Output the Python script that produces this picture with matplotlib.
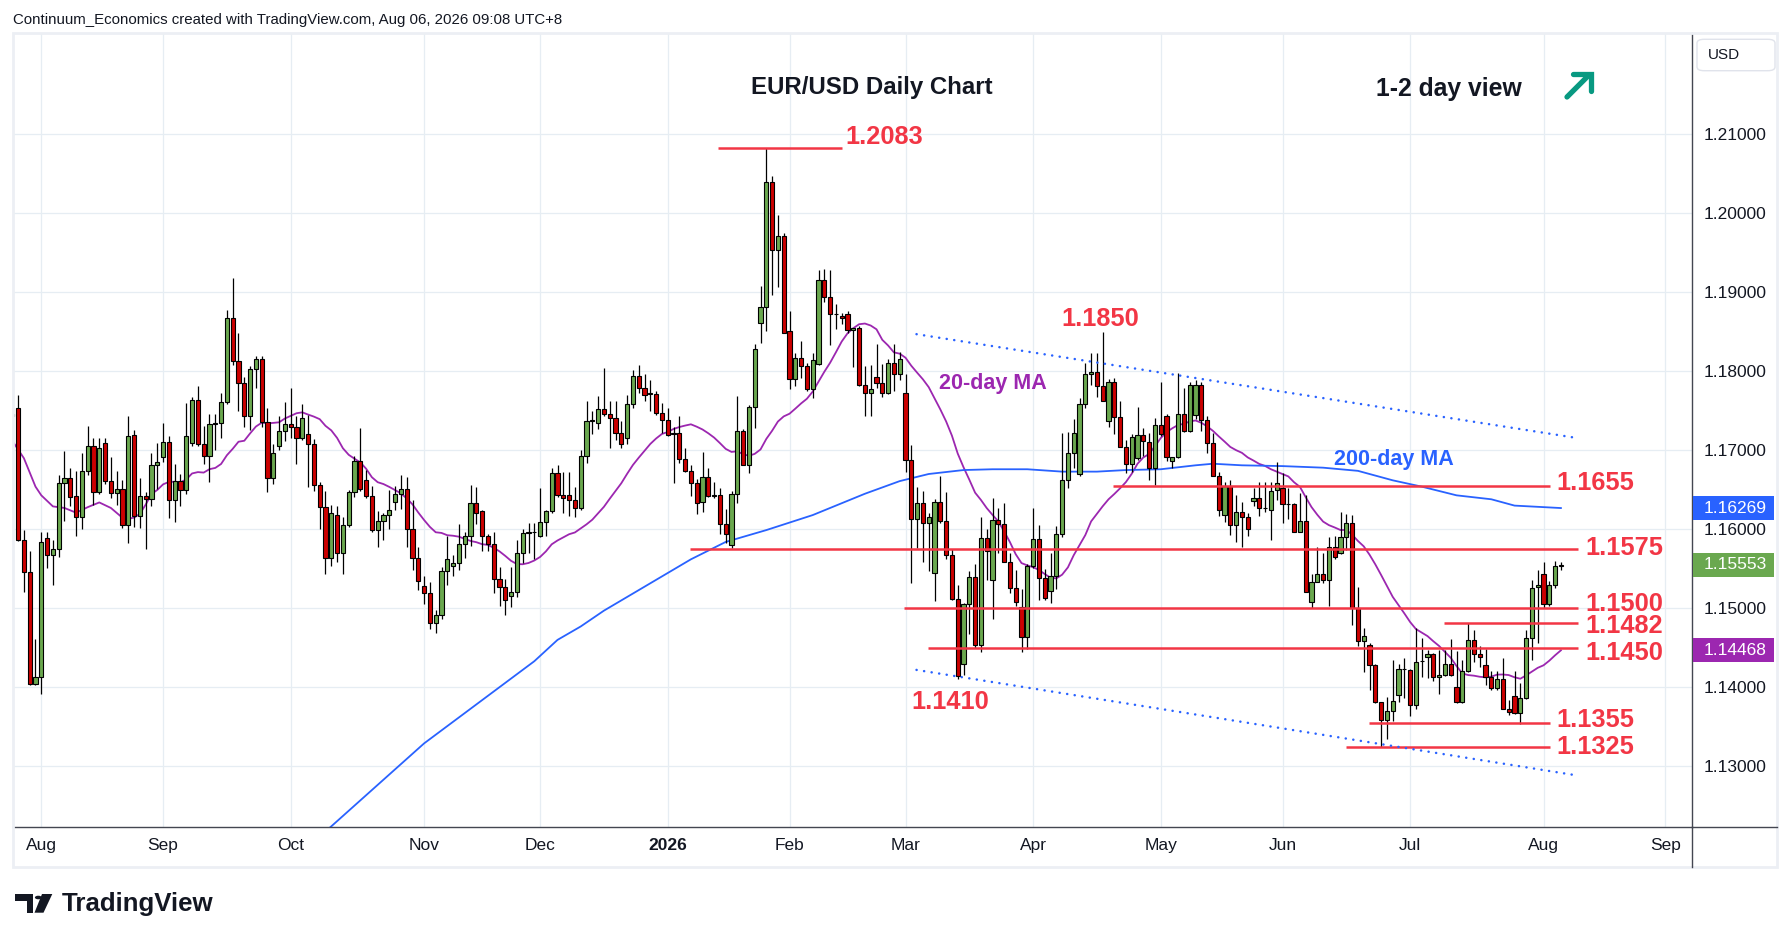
import numpy as np
import pandas as pd
import matplotlib
matplotlib.use('Agg')
import matplotlib.pyplot as plt
from matplotlib.lines import Line2D
from matplotlib.patches import Rectangle, Polygon, Circle, FancyBboxPatch

plt.rcParams['font.family'] = ['Liberation Sans', 'DejaVu Sans']

# EUR/USD daily OHLC, Jul 25 2025 .. Aug 06 2026 (weekdays, no Dec 25 / Jan 1)
opens = [
    1.1746, 1.1754, 1.1587, 1.1546, 1.1404,
    # Aug
    1.1413, 1.1589, 1.1568, 1.1575, 1.1658, 1.1665, 1.1642, 1.1615, 1.1674, 1.1705, 1.1647,
    1.1709, 1.1661, 1.1646, 1.1651, 1.1605, 1.1719, 1.1617, 1.1642, 1.1638, 1.1682,
    # Sep
    1.1692, 1.1710, 1.1637, 1.1661, 1.1650, 1.1709, 1.1764, 1.1708, 1.1693, 1.1733, 1.1734,
    1.1761, 1.1867, 1.1813, 1.1785, 1.1743, 1.1803, 1.1815, 1.1736, 1.1665, 1.1705, 1.1725,
    # Oct
    1.1733, 1.1729, 1.1715, 1.1720, 1.1708, 1.1656, 1.1628, 1.1564, 1.1618, 1.1570, 1.1606,
    1.1647, 1.1686, 1.1663, 1.1642, 1.1599, 1.1610, 1.1618, 1.1634, 1.1645, 1.1651, 1.1600, 1.1564,
    # Nov
    1.1528, 1.1519, 1.1482, 1.1492, 1.1547, 1.1553, 1.1557, 1.1582, 1.1592, 1.1633,
    1.1623, 1.1591, 1.1581, 1.1537, 1.1527, 1.1516, 1.1520, 1.1570, 1.1595, 1.1596,
    # Dec
    1.1591, 1.1609, 1.1623, 1.1671, 1.1644, 1.1644, 1.1637, 1.1627, 1.1693, 1.1737, 1.1734,
    1.1752, 1.1746, 1.1741, 1.1722, 1.1716, 1.1758, 1.1794, 1.1779, 1.1771, 1.1771, 1.1747,
    # Jan
    1.1738, 1.1721, 1.1722, 1.1689, 1.1674, 1.1659, 1.1634, 1.1666, 1.1642, 1.1643, 1.1607,
    1.1580, 1.1645, 1.1725, 1.1682, 1.1755, 1.1861, 1.1881, 1.2039, 1.1954, 1.1971,
    # Feb
    1.1851, 1.1790, 1.1817, 1.1807, 1.1777, 1.1809, 1.1915, 1.1894, 1.1872, 1.1870,
    1.1873, 1.1852, 1.1855, 1.1783, 1.1772, 1.1793, 1.1785, 1.1772, 1.1811, 1.1797,
    # Mar
    1.1772, 1.1688, 1.1613, 1.1633, 1.1608, 1.1545, 1.1635, 1.1611, 1.1568, 1.1512, 1.1429,
    1.1505, 1.1540, 1.1453, 1.1589, 1.1536, 1.1612, 1.1607, 1.1559, 1.1526, 1.1502, 1.1464,
    # Apr
    1.1554, 1.1588, 1.1538, 1.1522, 1.1541, 1.1594, 1.1662, 1.1697, 1.1670, 1.1759, 1.1796,
    1.1799, 1.1782, 1.1737, 1.1787, 1.1742, 1.1704, 1.1683, 1.1690, 1.1719, 1.1711, 1.1678,
    # May
    1.1732, 1.1744, 1.1687, 1.1692, 1.1746, 1.1725, 1.1745, 1.1783, 1.1738, 1.1709, 1.1668,
    1.1618, 1.1655, 1.1605, 1.1622, 1.1616, 1.1636, 1.1639, 1.1627, 1.1625, 1.1650,
    # Jun
    1.1652, 1.1632, 1.1632, 1.1597, 1.1610, 1.1508, 1.1533, 1.1543, 1.1536, 1.1578, 1.1570,
    1.1590, 1.1608, 1.1501, 1.1458, 1.1454, 1.1428, 1.1381, 1.1359, 1.1370, 1.1390, 1.1423,
    # Jul
    1.1422, 1.1378, 1.1433, 1.1438, 1.1442, 1.1413, 1.1416, 1.1430, 1.1400, 1.1381, 1.1420, 1.1460,
    1.1442, 1.1428, 1.1413, 1.1399, 1.1410, 1.1373, 1.1389, 1.1367, 1.1386, 1.1463, 1.1527,
    # Aug
    1.1544, 1.1506, 1.1530, 1.1553,
]
highs = [
    1.1760, 1.1770, 1.1599, 1.1573, 1.1461,
    1.1596, 1.1596, 1.1587, 1.1669, 1.1699, 1.1678, 1.1674, 1.1697, 1.1731, 1.1716, 1.1715,
    1.1715, 1.1692, 1.1674, 1.1662, 1.1743, 1.1726, 1.1665, 1.1647, 1.1697, 1.1709,
    1.1735, 1.1718, 1.1683, 1.1670, 1.1760, 1.1767, 1.1781, 1.1731, 1.1746, 1.1746, 1.1773,
    1.1878, 1.1918, 1.1848, 1.1793, 1.1807, 1.1819, 1.1819, 1.1753, 1.1708, 1.1743, 1.1761,
    1.1779, 1.1743, 1.1759, 1.1745, 1.1714, 1.1660, 1.1648, 1.1631, 1.1630, 1.1616, 1.1650,
    1.1693, 1.1728, 1.1675, 1.1655, 1.1623, 1.1621, 1.1650, 1.1655, 1.1669, 1.1666, 1.1637, 1.1578,
    1.1541, 1.1533, 1.1498, 1.1552, 1.1592, 1.1567, 1.1607, 1.1597, 1.1656, 1.1653,
    1.1624, 1.1594, 1.1597, 1.1552, 1.1537, 1.1552, 1.1587, 1.1601, 1.1608, 1.1608,
    1.1652, 1.1625, 1.1678, 1.1681, 1.1672, 1.1672, 1.1654, 1.1700, 1.1762, 1.1750, 1.1769,
    1.1804, 1.1762, 1.1763, 1.1737, 1.1770, 1.1802, 1.1808, 1.1797, 1.1789, 1.1775, 1.1760,
    1.1754, 1.1730, 1.1744, 1.1703, 1.1681, 1.1664, 1.1698, 1.1678, 1.1660, 1.1652, 1.1626,
    1.1648, 1.1769, 1.1727, 1.1757, 1.1834, 1.1908, 1.2083, 1.2047, 1.1998, 1.1975,
    1.1876, 1.1823, 1.1838, 1.1811, 1.1823, 1.1928, 1.1929, 1.1928, 1.1885, 1.1874,
    1.1876, 1.1855, 1.1857, 1.1807, 1.1808, 1.1835, 1.1809, 1.1815, 1.1835, 1.1825,
    1.1796, 1.1707, 1.1654, 1.1648, 1.1621, 1.1638, 1.1668, 1.1647, 1.1575, 1.1530, 1.1507,
    1.1547, 1.1556, 1.1616, 1.1600, 1.1640, 1.1627, 1.1633, 1.1570, 1.1549, 1.1524, 1.1556,
    1.1627, 1.1605, 1.1550, 1.1570, 1.1604, 1.1722, 1.1723, 1.1740, 1.1766, 1.1811, 1.1823,
    1.1823, 1.1850, 1.1790, 1.1792, 1.1763, 1.1713, 1.1720, 1.1755, 1.1728, 1.1722, 1.1741,
    1.1786, 1.1746, 1.1692, 1.1798, 1.1779, 1.1787, 1.1789, 1.1787, 1.1743, 1.1722, 1.1672,
    1.1660, 1.1662, 1.1644, 1.1635, 1.1620, 1.1652, 1.1660, 1.1660, 1.1660, 1.1685,
    1.1671, 1.1652, 1.1633, 1.1646, 1.1644, 1.1544, 1.1577, 1.1570, 1.1590, 1.1591, 1.1622,
    1.1619, 1.1618, 1.1527, 1.1475, 1.1456, 1.1429, 1.1382, 1.1388, 1.1435, 1.1430, 1.1437,
    1.1423, 1.1475, 1.1462, 1.1447, 1.1443, 1.1447, 1.1447, 1.1461, 1.1446, 1.1435, 1.1482, 1.1473,
    1.1452, 1.1449, 1.1420, 1.1421, 1.1437, 1.1384, 1.1421, 1.1405, 1.1472, 1.1536, 1.1548,
    1.1559, 1.1534, 1.1560, 1.1559,
]
lows = [
    1.1735, 1.1585, 1.1520, 1.1403, 1.1403,
    1.1392, 1.1551, 1.1529, 1.1565, 1.1611, 1.1629, 1.1591, 1.1600, 1.1669, 1.1631, 1.1645,
    1.1657, 1.1640, 1.1631, 1.1602, 1.1583, 1.1603, 1.1602, 1.1575, 1.1629, 1.1651,
    1.1685, 1.1614, 1.1609, 1.1630, 1.1645, 1.1705, 1.1705, 1.1683, 1.1660, 1.1701, 1.1716,
    1.1759, 1.1808, 1.1750, 1.1729, 1.1726, 1.1779, 1.1729, 1.1647, 1.1657, 1.1700, 1.1712,
    1.1715, 1.1683, 1.1713, 1.1653, 1.1648, 1.1600, 1.1543, 1.1553, 1.1558, 1.1543, 1.1603,
    1.1641, 1.1648, 1.1639, 1.1597, 1.1578, 1.1586, 1.1601, 1.1624, 1.1626, 1.1578, 1.1548, 1.1523,
    1.1505, 1.1474, 1.1469, 1.1487, 1.1530, 1.1541, 1.1549, 1.1564, 1.1579, 1.1607,
    1.1572, 1.1572, 1.1519, 1.1503, 1.1492, 1.1502, 1.1514, 1.1557, 1.1570, 1.1562,
    1.1590, 1.1592, 1.1621, 1.1641, 1.1621, 1.1617, 1.1616, 1.1624, 1.1684, 1.1720, 1.1727,
    1.1744, 1.1703, 1.1713, 1.1703, 1.1708, 1.1753, 1.1772, 1.1762, 1.1750, 1.1745, 1.1722,
    1.1718, 1.1659, 1.1684, 1.1673, 1.1642, 1.1619, 1.1622, 1.1641, 1.1640, 1.1594, 1.1583,
    1.1576, 1.1633, 1.1681, 1.1671, 1.1728, 1.1836, 1.1851, 1.1897, 1.1907, 1.1848,
    1.1777, 1.1781, 1.1792, 1.1775, 1.1766, 1.1808, 1.1888, 1.1833, 1.1853, 1.1860,
    1.1849, 1.1806, 1.1782, 1.1743, 1.1744, 1.1779, 1.1767, 1.1771, 1.1775, 1.1789,
    1.1673, 1.1532, 1.1576, 1.1559, 1.1547, 1.1509, 1.1608, 1.1562, 1.1511, 1.1410, 1.1416,
    1.1467, 1.1450, 1.1445, 1.1536, 1.1486, 1.1570, 1.1558, 1.1519, 1.1503, 1.1445, 1.1449,
    1.1551, 1.1511, 1.1511, 1.1507, 1.1524, 1.1590, 1.1652, 1.1678, 1.1667, 1.1754, 1.1783,
    1.1768, 1.1763, 1.1730, 1.1720, 1.1704, 1.1671, 1.1673, 1.1688, 1.1693, 1.1663, 1.1656,
    1.1718, 1.1686, 1.1678, 1.1690, 1.1723, 1.1723, 1.1740, 1.1724, 1.1696, 1.1667, 1.1617,
    1.1609, 1.1593, 1.1584, 1.1577, 1.1591, 1.1629, 1.1617, 1.1622, 1.1586, 1.1637,
    1.1608, 1.1613, 1.1597, 1.1596, 1.1521, 1.1500, 1.1533, 1.1532, 1.1503, 1.1562, 1.1569,
    1.1574, 1.1479, 1.1452, 1.1419, 1.1397, 1.1380, 1.1325, 1.1334, 1.1357, 1.1382, 1.1386,
    1.1364, 1.1373, 1.1413, 1.1412, 1.1408, 1.1392, 1.1414, 1.1414, 1.1380, 1.1380, 1.1419, 1.1432,
    1.1426, 1.1403, 1.1396, 1.1397, 1.1372, 1.1365, 1.1366, 1.1354, 1.1385, 1.1435, 1.1456,
    1.1501, 1.1503, 1.1526, 1.1549,
]
closes = [
    1.1743, 1.1587, 1.1546, 1.1404, 1.1413,
    1.1584, 1.1568, 1.1575, 1.1658, 1.1665, 1.1641, 1.1615, 1.1674, 1.1705, 1.1647, 1.1703,
    1.1661, 1.1646, 1.1651, 1.1605, 1.1718, 1.1617, 1.1642, 1.1638, 1.1682, 1.1685,
    1.1710, 1.1637, 1.1661, 1.1650, 1.1718, 1.1764, 1.1708, 1.1693, 1.1733, 1.1735, 1.1761,
    1.1867, 1.1813, 1.1785, 1.1743, 1.1803, 1.1815, 1.1736, 1.1665, 1.1697, 1.1725, 1.1733,
    1.1729, 1.1715, 1.1741, 1.1708, 1.1656, 1.1628, 1.1564, 1.1620, 1.1570, 1.1606, 1.1647,
    1.1686, 1.1651, 1.1642, 1.1599, 1.1610, 1.1618, 1.1625, 1.1645, 1.1651, 1.1600, 1.1564, 1.1534,
    1.1519, 1.1482, 1.1492, 1.1547, 1.1562, 1.1557, 1.1582, 1.1592, 1.1633, 1.1620,
    1.1591, 1.1581, 1.1537, 1.1527, 1.1510, 1.1520, 1.1570, 1.1595, 1.1596, 1.1597,
    1.1609, 1.1623, 1.1671, 1.1644, 1.1640, 1.1637, 1.1627, 1.1693, 1.1737, 1.1738, 1.1752,
    1.1746, 1.1741, 1.1722, 1.1708, 1.1758, 1.1794, 1.1779, 1.1770, 1.1772, 1.1747, 1.1738,
    1.1719, 1.1722, 1.1689, 1.1674, 1.1659, 1.1633, 1.1666, 1.1642, 1.1643, 1.1607, 1.1594,
    1.1645, 1.1725, 1.1682, 1.1755, 1.1828, 1.1881, 1.2039, 1.1954, 1.1971, 1.1849,
    1.1790, 1.1817, 1.1807, 1.1777, 1.1814, 1.1915, 1.1894, 1.1872, 1.1872, 1.1867,
    1.1852, 1.1855, 1.1783, 1.1772, 1.1778, 1.1785, 1.1772, 1.1811, 1.1797, 1.1816,
    1.1688, 1.1613, 1.1633, 1.1608, 1.1616, 1.1635, 1.1611, 1.1568, 1.1512, 1.1414, 1.1505,
    1.1540, 1.1453, 1.1589, 1.1572, 1.1612, 1.1607, 1.1559, 1.1526, 1.1508, 1.1464, 1.1554,
    1.1588, 1.1538, 1.1513, 1.1541, 1.1594, 1.1662, 1.1697, 1.1722, 1.1759, 1.1796, 1.1799,
    1.1782, 1.1763, 1.1787, 1.1742, 1.1704, 1.1683, 1.1717, 1.1719, 1.1712, 1.1678, 1.1732,
    1.1720, 1.1692, 1.1692, 1.1746, 1.1725, 1.1783, 1.1783, 1.1738, 1.1709, 1.1668, 1.1624,
    1.1655, 1.1605, 1.1622, 1.1616, 1.1601, 1.1639, 1.1627, 1.1627, 1.1649, 1.1658,
    1.1632, 1.1632, 1.1597, 1.1610, 1.1521, 1.1533, 1.1543, 1.1536, 1.1578, 1.1565, 1.1590,
    1.1608, 1.1501, 1.1458, 1.1465, 1.1428, 1.1381, 1.1359, 1.1370, 1.1383, 1.1423, 1.1423,
    1.1378, 1.1432, 1.1433, 1.1442, 1.1413, 1.1416, 1.1430, 1.1415, 1.1381, 1.1420, 1.1460, 1.1442,
    1.1438, 1.1413, 1.1399, 1.1410, 1.1373, 1.1369, 1.1367, 1.1386, 1.1463, 1.1526, 1.1530,
    1.1506, 1.1530, 1.1553, 1.15553,
]

# 20-day MA before enough bars are on screen
ma20_head_x = [0, 2, 4, 5, 7, 9, 11, 13, 15, 17]
ma20_head_y = [1.1712, 1.1690, 1.1654, 1.1643, 1.1629, 1.1627, 1.1621, 1.1628, 1.1634, 1.1627]

# 200-day MA (bar index / value)
ma200_x = [50, 55, 71, 90, 94, 98, 102, 117, 123, 130, 138, 147, 153, 158, 164, 169, 175,
           181, 187, 192, 198, 204, 207, 212, 219, 226, 232, 238, 243, 249, 255, 259, 267]
ma200_y = [1.1192, 1.1224, 1.1329, 1.1433, 1.1460, 1.1477, 1.1497, 1.1562, 1.1584, 1.1599,
           1.1618, 1.1645, 1.1661, 1.1670, 1.1675, 1.1676, 1.1676, 1.1673, 1.1673, 1.1675,
           1.1676, 1.1681, 1.1683, 1.1681, 1.1680, 1.1678, 1.1674, 1.1662, 1.1654, 1.1643,
           1.1638, 1.1630, 1.16269]

# support / resistance levels: price, first bar, last bar
levels = [1.2083, 1.1655, 1.1575, 1.1500, 1.1482, 1.1450, 1.1355, 1.1325]
level_start = [121.7, 189.8, 116.8, 153.8, 246.8, 157.8, 233.9, 229.9]
level_end = [143.0, 265.1, 270.0, 270.0, 270.0, 270.0, 265.1, 265.1]

# price labels: text, bar x, price y
labels = ['1.2083', '1.1850', '1.1655', '1.1575', '1.1500', '1.1482', '1.1450', '1.1355', '1.1325', '1.1410']
label_x = [143.7, 180.9, 266.2, 271.2, 271.2, 271.2, 271.2, 266.2, 266.2, 155.0]
label_y = [1.2096, 1.1866, 1.1658, 1.1576, 1.1506, 1.1477, 1.1444, 1.1359, 1.1325, 1.1381]

# channel (bar, price) end points
chan_up = [(155.9, 1.1847), (269.4, 1.1716)]
chan_dn = [(155.9, 1.1422), (269.3, 1.1289)]

RED = '#f23645'
UP = '#6aa84f'
DOWN = '#cc0000'
BLUE = '#2962ff'
PURPLE = '#9c27b0'
GRID = '#e6edf3'
AXC = '#434651'

dates = pd.bdate_range('2025-07-25', '2026-09-30')
dates = dates[~dates.isin(pd.to_datetime(['2025-12-25', '2026-01-01']))]
mstart = [i for i in range(1, len(dates)) if dates[i].month != dates[i - 1].month]
mlabels = [str(dates[i].year) if dates[i].month == 1 else dates[i].strftime('%b') for i in mstart]

o = np.array(opens); h = np.array(highs); l = np.array(lows); c = np.array(closes)
x = np.arange(len(c))

W, H = 1792, 942
fig = plt.figure(figsize=(W / 100, H / 100), dpi=100)
ax = fig.add_axes([12.7 / W, 1 - 826.7 / H, (1692 - 12.7) / W, (826.7 - 33.3) / H])
ax.set_xlim(0.07, 289.6)
ax.set_ylim(1.122354, 1.222785)

# grid
ax.set_xticks(mstart)
ax.set_xticklabels(mlabels)
for t, lab in zip(ax.get_xticklabels(), mlabels):
    if lab.isdigit():
        t.set_fontweight('bold')
yt = np.round(np.arange(1.13, 1.2150, 0.01), 2)
ax.set_yticks(yt)
ax.set_yticklabels(['%.5f' % v for v in yt])
ax.grid(color=GRID, lw=0.9, zorder=0)
ax.set_axisbelow(True)
ax.yaxis.tick_right()
ax.tick_params(axis='y', length=0, pad=8.5, labelsize=12.5, labelcolor='#131722')
ax.tick_params(axis='x', length=0, pad=8, labelsize=12.5, labelcolor='#131722')
for s in ['top', 'left']:
    ax.spines[s].set_visible(False)
for s in ['right', 'bottom']:
    ax.spines[s].set_color(AXC)
    ax.spines[s].set_linewidth(1)

# moving averages
ma20 = pd.Series(c).rolling(20).mean().values
ma20_x = list(ma20_head_x) + list(x[19:])
ma20_y = list(ma20_head_y) + list(ma20[19:])
ax.plot(ma20_x, ma20_y, color=PURPLE, lw=1.3, zorder=2)
ax.plot(ma200_x, ma200_y, color=BLUE, lw=1.3, zorder=2)

# candles
up = c >= o
lo = np.minimum(o, c)
hgt = np.maximum(np.abs(c - o), 0.00003)
ax.vlines(x, l, h, color='black', lw=0.9, zorder=3)
ax.bar(x[up], hgt[up], bottom=lo[up], width=0.72, color=UP, edgecolor='black', linewidth=0.8, zorder=4)
ax.bar(x[~up], hgt[~up], bottom=lo[~up], width=0.72, color=DOWN, edgecolor='black', linewidth=0.8, zorder=4)

# levels and labels
ax.hlines(levels, level_start, level_end, color=RED, lw=1.8, zorder=5)
for t, lx, ly in zip(labels, label_x, label_y):
    ax.text(lx, ly, t, color=RED, fontsize=18.3, fontweight='bold', va='center', ha='left', zorder=6)

# channel
for pts in (chan_up, chan_dn):
    ax.plot([p[0] for p in pts], [p[1] for p in pts], color=BLUE, lw=1.8,
            linestyle=(0, (0.05, 3.0)), dash_capstyle='round', zorder=5)

ax.text(159.8, 1.1784, '20-day MA', color=PURPLE, fontsize=15.5, fontweight='bold', va='center', zorder=6)
ax.text(227.9, 1.1688, '200-day MA', color=BLUE, fontsize=15.5, fontweight='bold', va='center', zorder=6)

# price scale tags
yx = ax.get_yaxis_transform()
tags = [(ma200_y[-1], BLUE), (closes[-1], UP), (ma20[-1], PURPLE)]
for val, col in tags:
    ax.add_patch(Rectangle((1.0004, val - 0.00152), 0.0485, 0.00304, transform=yx,
                           facecolor=col, edgecolor='none', clip_on=False, zorder=7))
    ax.text(1.00715, val, '%.5f' % val, transform=yx, color='white', fontsize=12.5,
            va='center', ha='left', clip_on=False, zorder=8)


def fx(px):
    return px / W


def fy(py):
    return 1 - py / H


# panel frame and axis extensions
fig.add_artist(Rectangle((fx(12.7), fy(866.7)), fx(1777) - fx(12.7), fy(33.3) - fy(866.7),
                         transform=fig.transFigure, fill=False, edgecolor='#eceff4', lw=2))
fig.add_artist(Line2D([fx(1692), fx(1692)], [fy(826.7), fy(866.7)], transform=fig.transFigure, color=AXC, lw=1))
fig.add_artist(Line2D([fx(1692), fx(1777)], [fy(826.7), fy(826.7)], transform=fig.transFigure, color=AXC, lw=1))

# USD box
fig.add_artist(FancyBboxPatch((fx(1697), fy(70.7)), fx(1775) - fx(1697), fy(39.3) - fy(70.7),
                              boxstyle='round,pad=0,rounding_size=0.004', transform=fig.transFigure,
                              facecolor='white', edgecolor='#e0e3eb', lw=1))
fig.text(fx(1708), fy(55), 'USD', fontsize=11, color='#131722', va='center', ha='left')

# header texts
fig.text(fx(13.4), fy(20), 'Continuum_Economics created with TradingView.com, Aug 06, 2026 09:08 UTC+8',
         fontsize=10.8, color='#131722', va='center', ha='left')
fig.text(fx(872), fy(87.5), 'EUR/USD Daily Chart', fontsize=17.3, fontweight='bold', color='#131722',
         va='center', ha='center')
fig.text(fx(1376), fy(89), '1-2 day view', fontsize=17.8, fontweight='bold', color='#131722',
         va='center', ha='left')

# green arrow
GREEN = '#089981'
fig.add_artist(Line2D([fx(1567), fx(1589)], [fy(97), fy(75)], transform=fig.transFigure,
                      color=GREEN, lw=3.8, solid_capstyle='round'))
fig.add_artist(Line2D([fx(1573), fx(1591), fx(1591)], [fy(73.5), fy(73.5), fy(91)], transform=fig.transFigure,
                      color=GREEN, lw=3.8, solid_capstyle='round', solid_joinstyle='miter'))

# TradingView logo
fig.add_artist(Polygon([(fx(15), fy(894)), (fx(33.3), fy(894)), (fx(33.3), fy(912.7)), (fx(26.7), fy(912.7)),
                        (fx(26.7), fy(900.7)), (fx(15), fy(900.7))], closed=True,
                       transform=fig.transFigure, facecolor='#131722', edgecolor='none'))
fig.add_artist(Circle((fx(38.3), fy(897.5)), 3.4 / W, transform=fig.transFigure, facecolor='#131722'))
fig.add_artist(Polygon([(fx(42), fy(894)), (fx(52.3), fy(894)), (fx(43.5), fy(912.7)), (fx(34.5), fy(912.7))],
                       closed=True, transform=fig.transFigure, facecolor='#131722', edgecolor='none'))
fig.text(fx(61.7), fy(904), 'TradingView', fontsize=18.6, fontweight='bold', color='#131722',
         va='center', ha='left')

fig.savefig('out.png', dpi=100, facecolor='white')
